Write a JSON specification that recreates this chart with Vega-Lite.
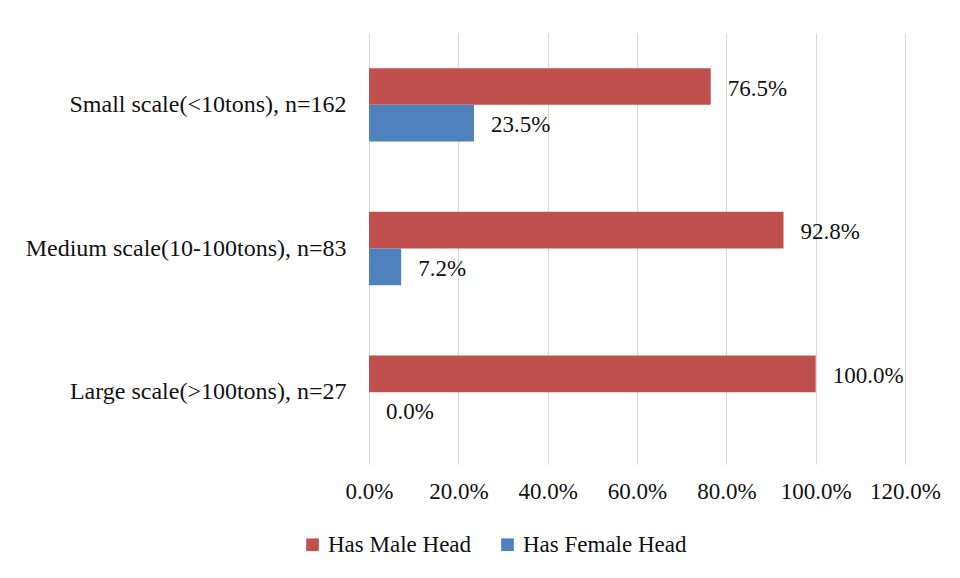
{
  "$schema": "https://vega.github.io/schema/vega-lite/v6.json",
  "width": 536,
  "height": 431,
  "autosize": {"type": "none"},
  "padding": {"left": 369, "top": 33, "right": 55, "bottom": 114},
  "background": "white",
  "config": {
    "font": "Liberation Serif",
    "view": {"stroke": null}
  },
  "data": {
    "values": [
      {"category": "Small scale(<10tons), n=162", "series": "Has Male Head", "value": 0.765},
      {"category": "Small scale(<10tons), n=162", "series": "Has Female Head", "value": 0.235},
      {"category": "Medium scale(10-100tons), n=83", "series": "Has Male Head", "value": 0.928},
      {"category": "Medium scale(10-100tons), n=83", "series": "Has Female Head", "value": 0.072},
      {"category": "Large scale(>100tons), n=27", "series": "Has Male Head", "value": 1.0},
      {"category": "Large scale(>100tons), n=27", "series": "Has Female Head", "value": 0.0}
    ]
  },
  "encoding": {
    "y": {
      "field": "category",
      "type": "nominal",
      "sort": ["Small scale(<10tons), n=162", "Medium scale(10-100tons), n=83", "Large scale(>100tons), n=27"],
      "scale": {"paddingInner": 0.49, "paddingOuter": 0.245},
      "axis": {
        "title": null,
        "domain": false,
        "ticks": false,
        "labelFontSize": 24,
        "labelColor": "#111111",
        "labelPadding": 23,
        "labelLimit": 400
      }
    },
    "yOffset": {
      "field": "series",
      "type": "nominal",
      "sort": ["Has Male Head", "Has Female Head"],
      "scale": {"paddingInner": 0, "paddingOuter": 0}
    },
    "x": {
      "field": "value",
      "type": "quantitative",
      "scale": {"domain": [0, 1.2], "nice": false},
      "axis": {
        "title": null,
        "values": [0, 0.2, 0.4, 0.6, 0.8, 1.0, 1.2],
        "format": ".1%",
        "domain": false,
        "ticks": false,
        "grid": true,
        "gridColor": "#d9d9d9",
        "gridWidth": 1,
        "labelFontSize": 23,
        "labelColor": "#111111",
        "labelPadding": 16,
        "labelFlush": false
      }
    }
  },
  "layer": [
    {
      "mark": {"type": "bar"},
      "encoding": {
        "color": {
          "field": "series",
          "type": "nominal",
          "sort": ["Has Male Head", "Has Female Head"],
          "scale": {"domain": ["Has Male Head", "Has Female Head"], "range": ["#C0504D", "#4F81BD"]},
          "legend": {
            "title": null,
            "orient": "none",
            "direction": "horizontal",
            "legendX": -68,
            "legendY": 500,
            "symbolType": "square",
            "symbolSize": 160,
            "symbolStrokeWidth": 0,
            "symbolOpacity": 1,
            "labelFontSize": 23,
            "labelColor": "#111111",
            "labelOffset": 4,
            "columnPadding": 24,
            "labelLimit": 300
          }
        }
      }
    },
    {
      "mark": {"type": "text", "align": "left", "baseline": "middle", "dx": 17, "dy": 2, "fontSize": 23, "color": "#111111"},
      "encoding": {
        "text": {"field": "value", "type": "quantitative", "format": ".1%"}
      }
    }
  ]
}
